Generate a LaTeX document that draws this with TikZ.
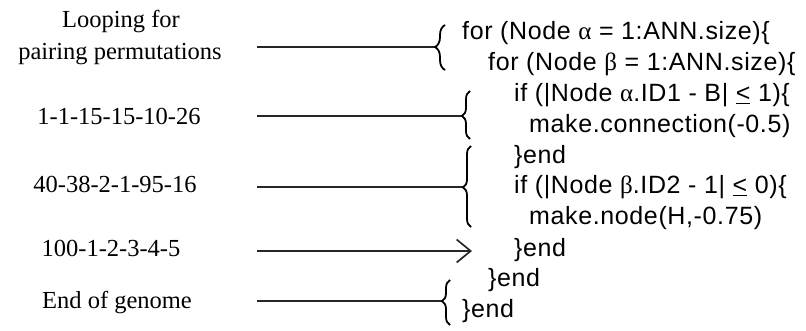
\documentclass[tikz,border=0pt]{standalone}
\usepackage{fontspec}
\setmainfont{Liberation Serif}
\newfontfamily\codefont[LetterSpace=2.5]{Liberation Sans}
\newfontfamily\greekfont[LetterSpace=2.5]{Liberation Serif}
\usetikzlibrary{decorations.pathreplacing,arrows.meta}
\begin{document}
\begin{tikzpicture}[x=1pt,y=-1pt,
  label/.style={inner sep=0pt,anchor=base,font=\fontsize{24.5}{28}\selectfont},
  code/.style={inner sep=0pt,anchor=base west,font=\codefont\fontsize{25}{29}\selectfont},
  link/.style={line width=1.7pt,draw=black!85},
  curly/.style={line width=1.8pt,decorate,decoration={brace,amplitude=#1}}]
\useasboundingbox (0,0) rectangle (806,331);

% labels on the left
\node[label] (l1a) at (121,28) {Looping for};
\node[label] (l1b) at (120,60) {pairing permutations};
\node[label] (l2)  at (119,125) {1-1-15-15-10-26};
\node[label] (l3)  at (115,193) {40-38-2-1-95-16};
\node[label] (l4)  at (111,257) {100-1-2-3-4-5};
\node[label] (l5)  at (117,308) {End of genome};

% pseudo-code on the right
\node[code] (c1)  at (462,40)  {for (Node {\greekfont α} = 1:ANN.size)\{};
\node[code] (c2)  at (488,71)  {for (Node {\greekfont β} = 1:ANN.size)\{};
\node[code] (c3)  at (514,102) {if (|Node {\greekfont α}.ID1 - B| \underline{<} 1)\{};
\node[code] (c4)  at (529,133) {make.connection(-0.5)};
\node[code] (c5)  at (514,164) {\}end};
\node[code] (c6)  at (514,194) {if (|Node {\greekfont β}.ID2 - 1| \underline{<} 0)\{};
\node[code] (c7)  at (529,225) {make.node(H,-0.75)};
\node[code] (c8)  at (514,256) {\}end};
\node[code] (c9)  at (488,287) {\}end};
\node[code] (c10) at (462,317) {\}end};

% connector ends
\coordinate (s1) at (257,47);  \coordinate (e1) at (435,47);
\coordinate (s2) at (257,116); \coordinate (e2) at (462,116);
\coordinate (s3) at (257,187); \coordinate (e3) at (463,187);
\coordinate (s4) at (257,251); \coordinate (e4) at (472,251);
\coordinate (s5) at (257,301); \coordinate (e5) at (442,301);

% brace tips
\coordinate (b1t) at (445,25);  \coordinate (b1b) at (445,70);
\coordinate (b2t) at (470,91);  \coordinate (b2b) at (470,139);
\coordinate (b3t) at (471,146); \coordinate (b3b) at (471,227);
\coordinate (b5t) at (450,280); \coordinate (b5b) at (450,325);

\draw[link] (s1) -- (e1);
\draw[link] (s2) -- (e2);
\draw[link] (s3) -- (e3);
\draw[link,-{Straight Barb[length=14pt,width=23pt]}] (s4) -- (e4);
\draw[link] (s5) -- (e5);

\draw[curly=10pt,decoration={aspect=0.51}] (b1b) -- (b1t);
\draw[curly=8pt,decoration={aspect=0.48}] (b2b) -- (b2t);
\draw[curly=8pt,decoration={aspect=0.49}] (b3b) -- (b3t);
\draw[curly=8pt,decoration={aspect=0.53}] (b5b) -- (b5t);
\end{tikzpicture}
\end{document}
